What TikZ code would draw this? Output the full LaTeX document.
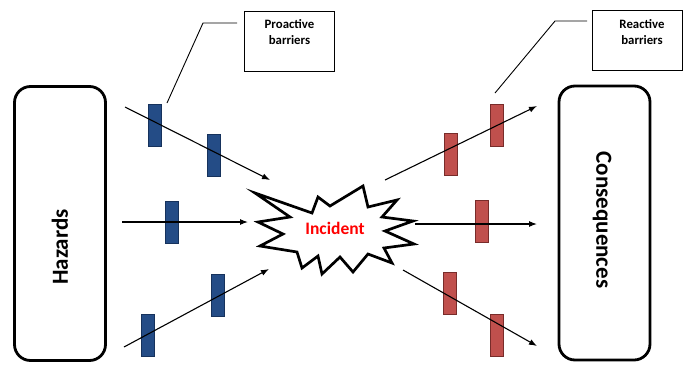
\documentclass[tikz,border=0pt]{standalone}
\usepackage{fontspec}
\setmainfont{Carlito}
\usetikzlibrary{arrows.meta}
\definecolor{barblue}{RGB}{36,76,134}
\definecolor{barblueedge}{RGB}{22,50,92}
\definecolor{barred}{RGB}{192,80,77}
\definecolor{barrededge}{RGB}{120,44,42}
\tikzset{
  sidebox/.style={draw, line width=2.8pt, rounded corners=16pt, minimum width=91pt, minimum height=274pt, inner sep=0pt},
  sidetext/.style={font=\fontsize{23}{27}\selectfont\bfseries},
  callout/.style={draw, line width=0.9pt, minimum width=90pt, minimum height=60pt, inner sep=0pt},
  callouttext/.style={font=\fontsize{12.8}{16}\selectfont\bfseries, align=center, inner sep=0pt},
  proactive/.style={draw=barblueedge, fill=barblue, line width=0.8pt, minimum width=13pt, minimum height=42pt, inner sep=0pt},
  reactive/.style={draw=barrededge, fill=barred, line width=0.8pt, minimum width=13pt, minimum height=42pt, inner sep=0pt},
  flow/.style={line width=1.1pt, -{Latex[length=8pt,width=6pt]}},
  leader/.style={line width=0.9pt},
}
\begin{document}
\begin{tikzpicture}[x=1pt, y=-1pt]
\useasboundingbox (0,0) rectangle (683,365);

% side boxes
\node[sidebox] (hazards) at (60,223.5) {};
\node[sidetext, rotate=90] (hazardslabel) at (60,247) {Hazards};
\node[sidebox] (consequences) at (604.5,223) {};
\node[sidetext, rotate=-90] (consequenceslabel) at (602,220) {Consequences};

% callout boxes
\node[callout] (probox) at (289.5,41.5) {};
\node[callouttext] (protext) at (289.5,32) {Proactive\\barriers};
\node[callout] (reabox) at (637,40) {};
\node[callouttext] (reatext) at (642,32) {Reactive\\barriers};

% leader lines from callouts to barriers
\coordinate (proknee) at (203,23);
\coordinate (proend) at (237,23);
\coordinate (proroot) at (167,103);
\draw[leader] (proroot) -- (proknee) -- (proend);
\coordinate (reaknee) at (555,21);
\coordinate (reaend) at (587,21);
\coordinate (rearoot) at (495,93);
\draw[leader] (rearoot) -- (reaknee) -- (reaend);

% the incident starburst
\draw[line width=2.7pt, miter limit=20, fill=white]
  (255,193) -- (312,213) -- (318,197) -- (330,206) -- (363,186) -- (368,207)
  -- (397,200) -- (382,217) -- (413,221) -- (385,231) -- (414,244) -- (384,248)
  -- (392,263) -- (368,254) -- (353,272) -- (340,257) -- (322,274) -- (318,256)
  -- (302,268) -- (297,252) -- (260,246) -- (283,234) -- (258,222) -- (290,217)
  -- cycle;
\node[font=\fontsize{17.5}{21}\selectfont\bfseries, text=red] (incident) at (335,228) {Incident};

% proactive barriers
\node[proactive] (p1) at (154.5,125) {};
\node[proactive] (p2) at (214,155) {};
\node[proactive] (p3) at (172,222) {};
\node[proactive] (p4) at (147.5,335) {};
\node[proactive] (p5) at (217.5,295) {};

% reactive barriers
\node[reactive] (r1) at (450.5,154.5) {};
\node[reactive] (r2) at (496.5,125) {};
\node[reactive] (r3) at (482,221.5) {};
\node[reactive] (r4) at (450,293) {};
\node[reactive] (r5) at (496.5,335) {};

% hazard paths into the incident
\coordinate (h1) at (125,107);
\coordinate (h1e) at (270,180);
\coordinate (h2) at (122,222);
\coordinate (h2e) at (248,222);
\coordinate (h3) at (124,347);
\coordinate (h3e) at (269,269);
\draw[flow] (h1) -- (h1e);
\draw[flow] (h2) -- (h2e);
\draw[flow] (h3) -- (h3e);

% consequence paths out of the incident
\coordinate (c1) at (385,180);
\coordinate (c1e) at (537,106);
\coordinate (c2) at (415,224);
\coordinate (c2e) at (537,224);
\coordinate (c3) at (403,270);
\coordinate (c3e) at (537,346);
\draw[flow] (c1) -- (c1e);
\draw[flow] (c2) -- (c2e);
\draw[flow] (c3) -- (c3e);
\end{tikzpicture}
\end{document}
